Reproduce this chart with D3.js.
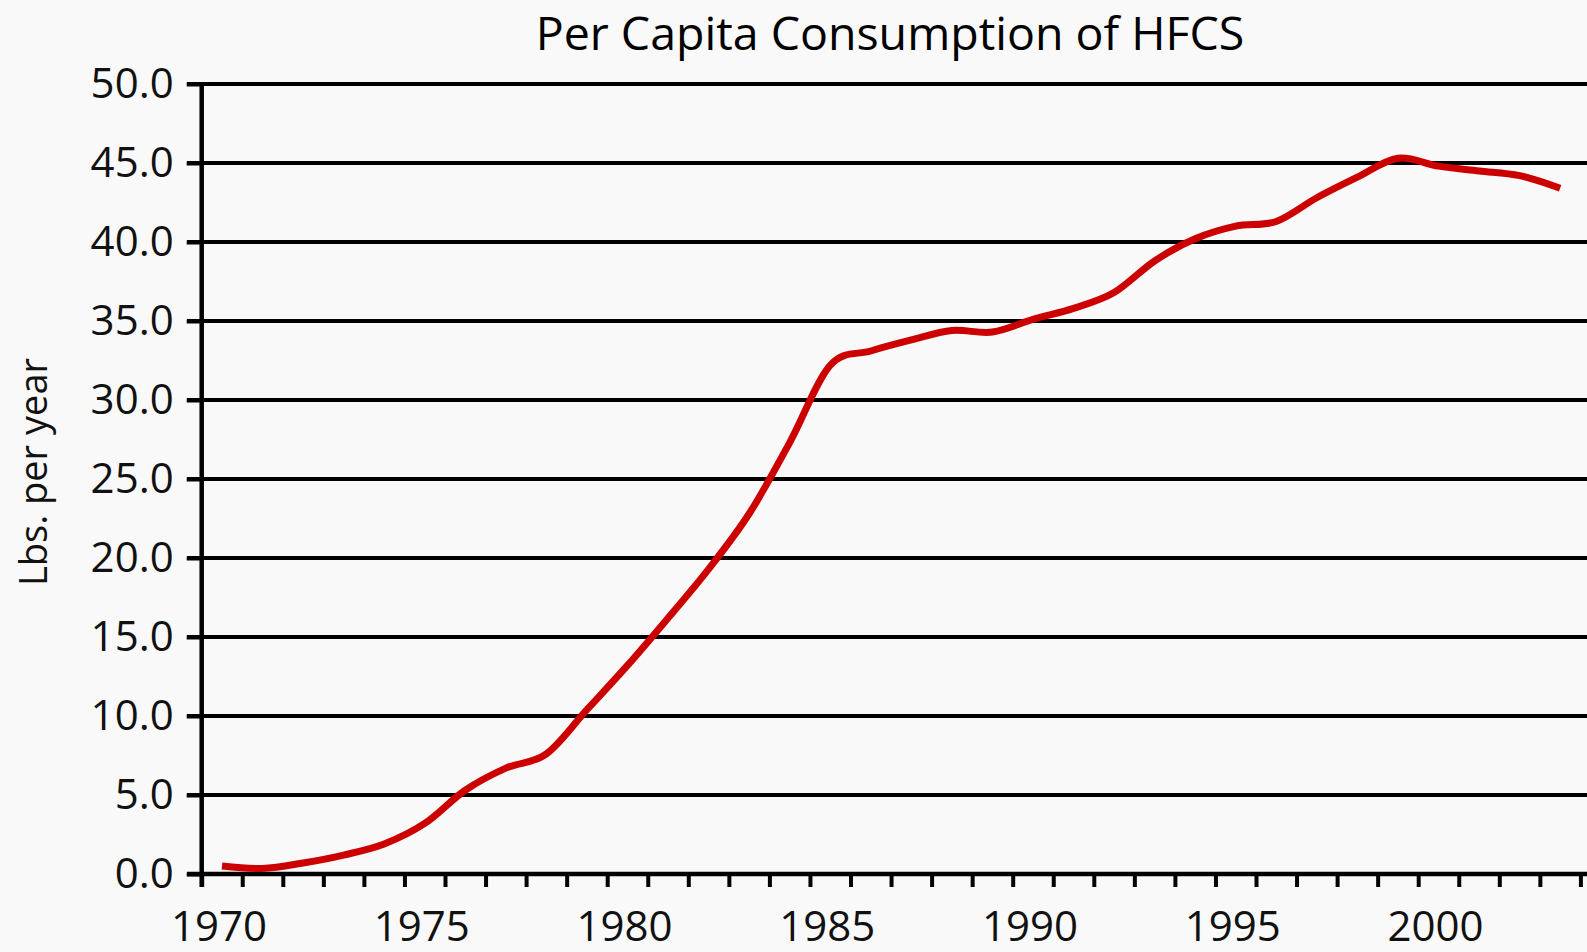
<!DOCTYPE html>
<html>
<head>
<meta charset="utf-8">
<script src="https://cdn.jsdelivr.net/npm/d3@7"></script>
<style>
  html, body { margin: 0; padding: 0; background: #f9f9f9; }
  svg { display: block; font-family: "Open Sans", sans-serif; }
</style>
</head>
<body>
<div id="chart"></div>
<script>
// Data (lbs per person, per year)
const years = [1970, 1971, 1972, 1973, 1974, 1975, 1976, 1977, 1978, 1979,
  1980, 1981, 1982, 1983, 1984, 1985, 1986, 1987, 1988, 1989,
  1990, 1991, 1992, 1993, 1994, 1995, 1996, 1997, 1998, 1999,
  2000, 2001, 2002, 2003];
const hfcs = [0.5, 0.35, 0.7, 1.2, 1.9, 3.2, 5.3, 6.7, 7.6, 10.4,
  13.2, 16.2, 19.3, 22.8, 27.3, 32.2, 33.1, 33.8, 34.4, 34.3,
  35.1, 35.8, 36.8, 38.8, 40.2, 41.0, 41.3, 42.8, 44.1, 45.3,
  44.8, 44.5, 44.2, 43.4];
const yTicks = [0, 5, 10, 15, 20, 25, 30, 35, 40, 45, 50];
const xLabels = [1970, 1975, 1980, 1985, 1990, 1995, 2000];

const W = 1587, H = 952;
const svg = d3.select('#chart').append('svg')
  .attr('width', W)
  .attr('height', H);

svg.append('rect').attr('width', W).attr('height', H).attr('fill', '#f9f9f9');

// Scales - each year is a slot, points sit in the middle of it
const x = d3.scaleLinear().domain([1970, 2004]).range([201.7, 1580.4]);
const y = d3.scaleLinear().domain([0, 50]).range([874, 84]);

// Title
svg.append('text')
  .attr('x', 890)
  .attr('y', 50)
  .attr('text-anchor', 'middle')
  .attr('font-size', 46.5)
  .attr('fill', '#000')
  .text('Per Capita Consumption of HFCS');

// Y label
svg.append('text')
  .attr('transform', 'translate(47, 472) rotate(-90)')
  .attr('text-anchor', 'middle')
  .attr('font-size', 38)
  .attr('fill', '#111')
  .text('Lbs. per year');

// Gridlines
svg.append('g')
  .selectAll('line')
  .data(yTicks)
  .join('line')
  .attr('x1', 187)
  .attr('x2', W)
  .attr('y1', d => y(d))
  .attr('y2', d => y(d))
  .attr('stroke', '#000')
  .attr('stroke-width', 4);

// Y axis
const yAxis = svg.append('g')
  .attr('transform', `translate(${x(1970)}, 0)`)
  .call(d3.axisLeft(y).tickValues(yTicks).tickSize(15).tickPadding(13).tickFormat(d3.format('.1f')));
yAxis.select('.domain').remove();
yAxis.selectAll('.tick line').attr('stroke', '#000').attr('stroke-width', 4);
yAxis.selectAll('.tick text')
  .attr('font-size', 42)
  .attr('font-family', '"Open Sans", sans-serif')
  .attr('fill', '#111');
yAxis.append('line')
  .attr('y1', y(50) - 2)
  .attr('y2', 887)
  .attr('stroke', '#000')
  .attr('stroke-width', 4.5);

// X axis: a tick at every year boundary, labels in the middle of the slot
const xAxis = svg.append('g')
  .attr('transform', `translate(0, ${y(0)})`)
  .call(d3.axisBottom(x).tickValues(d3.range(1970, 2005)).tickSize(13).tickFormat(''));
xAxis.select('.domain').remove();
xAxis.selectAll('.tick line').attr('stroke', '#000').attr('stroke-width', 4);
xAxis.append('line')
  .attr('x1', 187)
  .attr('x2', W)
  .attr('stroke', '#000')
  .attr('stroke-width', 4.5);

svg.append('g')
  .selectAll('text')
  .data(xLabels)
  .join('text')
  .attr('x', d => x(d + 0.5) - 3)
  .attr('y', 941)
  .attr('text-anchor', 'middle')
  .attr('font-size', 42)
  .attr('fill', '#111')
  .text(d => d);

// Line
const line = d3.line()
  .x((d, i) => x(years[i] + 0.5))
  .y(d => y(d))
  .curve(d3.curveCatmullRom.alpha(0));

svg.append('path')
  .datum(hfcs)
  .attr('d', line)
  .attr('fill', 'none')
  .attr('stroke', '#cc0000')
  .attr('stroke-width', 7)
  .attr('stroke-linejoin', 'round');
</script>
</body>
</html>
